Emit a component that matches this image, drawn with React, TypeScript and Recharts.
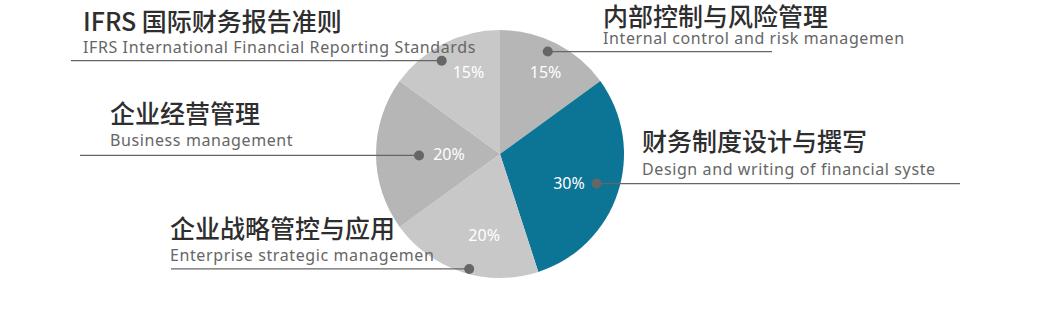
import React from 'react';
import { PieChart, Pie, Cell } from 'recharts';

// Service areas, clockwise from 12 o'clock
const titles = [
  '内部控制与风险管理',
  '财务制度设计与撰写',
  '企业战略管控与应用',
  '企业经营管理',
  'IFRS 国际财务报告准则',
];
const subtitles = [
  'Internal control and risk managemen',
  'Design and writing of financial syste',
  'Enterprise strategic managemen',
  'Business management',
  'IFRS International Financial Reporting Standards',
];
const shares = [15, 30, 20, 20, 15];

const COLORS = ['#b5b6b5', '#0c7494', '#c8c8c8', '#b5b6b5', '#c8c8c8'];

// Callout layout per slice: radius/angle nudge of the % text and of the dot,
// far end of the leader line, and where the caption block sits
const callouts = [
  { pctR: 94, pctTurn: -2, dotR: 113, dotTurn: 2, lineEnd: 772, textX: 603, titleY: 26, subY: 44 },
  { pctR: 75, pctTurn: -5, dotR: 101, dotTurn: 1, lineEnd: 960, textX: 642, titleY: 151, subY: 175 },
  { pctR: 83, pctTurn: 7, dotR: 119, dotTurn: 3, lineEnd: 171, textX: 170, titleY: 238, subY: 261 },
  { pctR: 51, pctTurn: 0, dotR: 81, dotTurn: 1, lineEnd: 80, textX: 110, titleY: 123, subY: 146 },
  { pctR: 88, pctTurn: -6, dotR: 110, dotTurn: 5, lineEnd: 71, textX: 83, titleY: 31, subY: 53 },
];

const data = titles.map((t, i) => ({ name: t, sub: subtitles[i], value: shares[i] }));

const RAD = Math.PI / 180;
const CJK = '"Noto Sans CJK SC", "Noto Sans", sans-serif';
const LATIN = '"Noto Sans", "Open Sans", sans-serif';

function polar(cx: number, cy: number, r: number, deg: number) {
  return [cx + r * Math.cos(-deg * RAD), cy + r * Math.sin(-deg * RAD)];
}

function Callout(props: any) {
  const { cx, cy, midAngle, index } = props;
  const c = callouts[index];
  const d = data[index];
  const [px, py] = polar(cx, cy, c.pctR, midAngle + c.pctTurn);
  const [dx, dy] = polar(cx, cy, c.dotR, midAngle + c.dotTurn);
  return (
    <g>
      <text x={px} y={py} fill="#fff" fontSize={16} fontFamily={LATIN}
        textAnchor="middle" dominantBaseline="central">
        {d.value}%
      </text>
      <line x1={dx} y1={dy} x2={c.lineEnd} y2={dy} stroke="#666" strokeWidth={1.2} />
      <circle cx={dx} cy={dy} r={5} fill="#666" />
      <text x={c.textX} y={c.titleY} fill="#2e2e2e" fontSize={25} fontWeight={500} fontFamily={CJK}>
        {d.name}
      </text>
      <text x={c.textX} y={c.subY} fill="#666" fontSize={16} letterSpacing={0.6} fontFamily={LATIN}>
        {d.sub}
      </text>
    </g>
  );
}

export default function App() {
  return (
    <div style={{ width: 1051, height: 310, background: '#fff' }}>
      <style>{'body{margin:0}'}</style>
      <PieChart width={1051} height={310} margin={{ top: 0, right: 0, bottom: 0, left: 0 }}>
        <Pie
          data={data}
          dataKey="value"
          cx={500}
          cy={154}
          outerRadius={124}
          startAngle={90}
          endAngle={-270}
          stroke="none"
          labelLine={false}
          label={Callout}
          isAnimationActive={false}
        >
          {data.map((_, i) => (
            <Cell key={i} fill={COLORS[i]} />
          ))}
        </Pie>
      </PieChart>
    </div>
  );
}
